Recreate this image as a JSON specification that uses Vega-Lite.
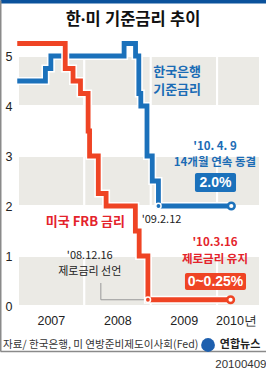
{
  "$schema": "https://vega.github.io/schema/vega-lite/v6.json",
  "width": 266,
  "height": 351,
  "autosize": "none",
  "padding": {"left": 0, "top": 0, "right": 0, "bottom": 22},
  "background": "white",
  "title": {"text": "한·미 기준금리 추이", "font": "'Noto Sans', 'Noto Sans CJK KR'", "fontSize": 16.5, "fontWeight": "bold", "color": "#111111", "anchor": "middle", "frame": "group", "offset": -28},
  "config": {"view": {"stroke": null}, "font": "Noto Sans CJK KR"},
  "resolve": {"axis": {"x": "independent", "y": "independent"}},
  "datasets": {
    "rates": [
      {"series": "한국", "date": "2006-12-28", "value": 4.5},
      {"series": "한국", "date": "2007-06-01", "value": 4.75},
      {"series": "한국", "date": "2007-07-01", "value": 5.0},
      {"series": "한국", "date": "2008-08-07", "value": 5.25},
      {"series": "한국", "date": "2008-10-09", "value": 5.0},
      {"series": "한국", "date": "2008-10-27", "value": 4.25},
      {"series": "한국", "date": "2008-11-07", "value": 4.0},
      {"series": "한국", "date": "2008-12-11", "value": 3.0},
      {"series": "한국", "date": "2009-01-09", "value": 2.5},
      {"series": "한국", "date": "2009-02-12", "value": 2.0},
      {"series": "한국", "date": "2010-03-20", "value": 2.0},
      {"series": "미국", "date": "2006-12-28", "value": 5.25},
      {"series": "미국", "date": "2007-09-18", "value": 4.75},
      {"series": "미국", "date": "2007-10-31", "value": 4.5},
      {"series": "미국", "date": "2007-12-11", "value": 4.25},
      {"series": "미국", "date": "2008-01-22", "value": 3.5},
      {"series": "미국", "date": "2008-01-30", "value": 3.0},
      {"series": "미국", "date": "2008-03-18", "value": 2.25},
      {"series": "미국", "date": "2008-04-30", "value": 2.0},
      {"series": "미국", "date": "2008-10-08", "value": 1.5},
      {"series": "미국", "date": "2008-10-29", "value": 1.0},
      {"series": "미국", "date": "2008-12-16", "value": 0.125},
      {"series": "미국", "date": "2010-03-16", "value": 0.125}
    ]
  },
  "layer": [
    {
      "data": {"values": [
        {"start": "2007-01-01", "end": "2008-01-01", "lo": 0, "hi": 1},
        {"start": "2008-01-01", "end": "2009-01-01", "lo": 0, "hi": 1},
        {"start": "2009-01-01", "end": "2010-01-01", "lo": 0, "hi": 1},
        {"start": "2010-01-01", "end": "2010-08-25", "lo": 0, "hi": 1},
        {"start": "2007-01-01", "end": "2008-01-01", "lo": 2, "hi": 3},
        {"start": "2008-01-01", "end": "2009-01-01", "lo": 2, "hi": 3},
        {"start": "2009-01-01", "end": "2010-01-01", "lo": 2, "hi": 3},
        {"start": "2010-01-01", "end": "2010-08-25", "lo": 2, "hi": 3},
        {"start": "2007-01-01", "end": "2008-01-01", "lo": 4, "hi": 5},
        {"start": "2008-01-01", "end": "2009-01-01", "lo": 4, "hi": 5},
        {"start": "2009-01-01", "end": "2010-01-01", "lo": 4, "hi": 5},
        {"start": "2010-01-01", "end": "2010-08-25", "lo": 4, "hi": 5}
      ]},
      "mark": {"type": "rect", "fill": "#ebeae5", "stroke": "white", "strokeWidth": 2},
      "encoding": {
        "x": {"field": "start", "type": "temporal",
          "scale": {"domain": [{"year": 2006, "month": 9, "date": 24}, {"year": 2010, "month": 9, "date": 27}], "nice": false},
          "axis": {"orient": "bottom", "title": "20100409", "titleAnchor": "end", "titleFont": "Liberation Sans", "titleFontSize": 11.5, "titleFontWeight": "normal", "titleColor": "#333333", "titlePadding": 7,
            "values": [{"year": 2007, "month": 7, "date": 1}, {"year": 2008, "month": 7, "date": 1}, {"year": 2009, "month": 7, "date": 1}, {"year": 2010, "month": 4, "date": 15}],
            "labelExpr": "year(datum.value) == 2010 ? '2010년' : timeFormat(datum.value, '%Y')",
            "labelFont": "Liberation Sans", "labelFontSize": 12.5, "labelColor": "#222222", "labelBaseline": "middle", "labelPadding": -31, "labelFlush": false, "labelOverlap": false,
            "ticks": false, "grid": false, "domainColor": "#8a8a8a", "domainWidth": 1.5}},
        "x2": {"field": "end"},
        "y": {"field": "lo", "type": "quantitative",
          "scale": {"domain": [-0.9, 6.12], "nice": false, "zero": false},
          "axis": {"orient": "left", "title": null, "labels": false, "ticks": false, "grid": false, "domainColor": "#8a8a8a", "domainWidth": 2}},
        "y2": {"field": "hi"}
      }
    },
    {
      "data": {"values": [
        {"seq": 1, "date": "2008-04-01", "value": 0.46},
        {"seq": 2, "date": "2008-04-01", "value": 0.125},
        {"seq": 3, "date": "2008-12-16", "value": 0.125}
      ]},
      "mark": {"type": "line", "color": "#999999", "strokeWidth": 1},
      "encoding": {
        "x": {"field": "date", "type": "temporal", "axis": {"orient": "top", "title": null, "labels": false, "ticks": false, "grid": false, "domainColor": "#0b529c", "domainWidth": 6}},
        "y": {"field": "value", "type": "quantitative", "axis": {"orient": "left", "offset": -14, "title": null, "domain": false, "ticks": false, "grid": false, "values": [0, 1, 2, 3, 4, 5], "labelFont": "Liberation Sans", "labelFontSize": 12.5, "labelColor": "#222222", "labelAlign": "right", "labelBaseline": "middle", "labelPadding": 2, "labelOverlap": false, "labelFlush": false}},
        "order": {"field": "seq"}
      }
    },
    {
      "data": {"name": "rates"},
      "transform": [{"filter": "datum.series == '한국'"}],
      "mark": {"type": "line", "interpolate": "step-after", "color": "white", "strokeWidth": 8, "strokeJoin": "miter"},
      "encoding": {
        "x": {"field": "date", "type": "temporal", "axis": null},
        "y": {"field": "value", "type": "quantitative", "axis": null}
      }
    },
    {
      "data": {"name": "rates"},
      "transform": [{"filter": "datum.series == '한국'"}],
      "mark": {"type": "line", "interpolate": "step-after", "strokeWidth": 4.8, "strokeJoin": "miter"},
      "encoding": {
        "x": {"field": "date", "type": "temporal", "axis": null},
        "y": {"field": "value", "type": "quantitative", "axis": null},
        "color": {"field": "series", "type": "nominal", "scale": {"domain": ["한국", "미국"], "range": ["#1b71bb", "#ef4424"]}, "legend": null}
      }
    },
    {
      "data": {"name": "rates"},
      "transform": [{"filter": "datum.series == '미국'"}],
      "mark": {"type": "line", "interpolate": "step-after", "color": "white", "strokeWidth": 8, "strokeJoin": "miter"},
      "encoding": {
        "x": {"field": "date", "type": "temporal", "axis": null},
        "y": {"field": "value", "type": "quantitative", "axis": null}
      }
    },
    {
      "data": {"name": "rates"},
      "transform": [{"filter": "datum.series == '미국'"}],
      "mark": {"type": "line", "interpolate": "step-after", "strokeWidth": 4.8, "strokeJoin": "miter"},
      "encoding": {
        "x": {"field": "date", "type": "temporal", "axis": null},
        "y": {"field": "value", "type": "quantitative", "axis": null},
        "color": {"field": "series", "type": "nominal", "legend": null}
      }
    },
    {
      "data": {"values": [
        {"series": "미국", "date": "2008-12-16", "value": 0.125},
        {"series": "한국", "date": "2009-02-12", "value": 2.0}
      ]},
      "mark": {"type": "circle", "size": 28, "stroke": "white", "strokeWidth": 1.5, "opacity": 1},
      "encoding": {
        "x": {"field": "date", "type": "temporal", "axis": null},
        "y": {"field": "value", "type": "quantitative", "axis": null},
        "color": {"field": "series", "type": "nominal", "legend": null}
      }
    },
    {
      "data": {"values": [
        {"series": "미국", "date": "2010-03-16", "value": 0.125},
        {"series": "한국", "date": "2010-03-20", "value": 2.0}
      ]},
      "mark": {"type": "point", "filled": false, "fill": "white", "size": 45, "strokeWidth": 2.5, "opacity": 1},
      "encoding": {
        "x": {"field": "date", "type": "temporal", "axis": null},
        "y": {"field": "value", "type": "quantitative", "axis": null},
        "color": {"field": "series", "type": "nominal", "legend": null}
      }
    },
    {
      "data": {"values": [
        {"start": "2009-09-01", "end": "2010-04-15", "low": 2.28, "high": 2.66, "series": "한국"},
        {"start": "2009-07-08", "end": "2010-06-09", "low": 0.32, "high": 0.66, "series": "미국"}
      ]},
      "mark": {"type": "rect", "cornerRadius": 2},
      "encoding": {
        "x": {"field": "start", "type": "temporal", "axis": null},
        "x2": {"field": "end"},
        "y": {"field": "low", "type": "quantitative", "axis": null},
        "y2": {"field": "high"},
        "color": {"field": "series", "type": "nominal", "scale": {"domain": ["한국", "미국"], "range": ["#1b6cb5", "#e4232b"]}, "legend": null}
      }
    },
    {
      "data": {"values": [
        {"date": "2009-12-23", "value": 2.47, "label": "2.0%"},
        {"date": "2009-12-23", "value": 0.49, "label": "0~0.25%"}
      ]},
      "mark": {"type": "text", "font": "Liberation Sans", "fontSize": 14, "fontWeight": "bold", "color": "white", "align": "center", "baseline": "middle"},
      "encoding": {
        "x": {"field": "date", "type": "temporal", "axis": null},
        "y": {"field": "value", "type": "quantitative", "axis": null},
        "text": {"field": "label"}
      }
    },
    {
      "data": {"values": [
        {"date": "2009-01-14", "value": 4.68, "label": "한국은행\n기준금리"}
      ]},
      "mark": {"type": "text", "fontSize": 13, "fontWeight": "bold", "color": "#1b6cb5", "align": "left", "baseline": "middle", "lineBreak": "\n", "lineHeight": 18},
      "encoding": {
        "x": {"field": "date", "type": "temporal", "axis": null},
        "y": {"field": "value", "type": "quantitative", "axis": null},
        "text": {"field": "label"}
      }
    },
    {
      "data": {"values": [
        {"date": "2009-12-20", "value": 3.18, "label": "'10. 4. 9\n14개월 연속 동결"}
      ]},
      "mark": {"type": "text", "fontSize": 11.5, "fontWeight": "bold", "color": "#1b6cb5", "align": "center", "baseline": "middle", "lineBreak": "\n", "lineHeight": 16},
      "encoding": {
        "x": {"field": "date", "type": "temporal", "axis": null},
        "y": {"field": "value", "type": "quantitative", "axis": null},
        "text": {"field": "label"}
      }
    },
    {
      "data": {"values": [
        {"date": "2008-01-07", "value": 1.68, "label": "미국 FRB 금리"}
      ]},
      "mark": {"type": "text", "fontSize": 13, "fontWeight": "bold", "color": "#e4232b", "align": "center", "baseline": "middle"},
      "encoding": {
        "x": {"field": "date", "type": "temporal", "axis": null},
        "y": {"field": "value", "type": "quantitative", "axis": null},
        "text": {"field": "label"}
      }
    },
    {
      "data": {"values": [
        {"date": "2009-12-20", "value": 1.26, "label": "'10.3.16\n제로금리 유지"}
      ]},
      "mark": {"type": "text", "fontSize": 11.5, "fontWeight": "bold", "color": "#e4232b", "align": "center", "baseline": "middle", "lineBreak": "\n", "lineHeight": 17},
      "encoding": {
        "x": {"field": "date", "type": "temporal", "axis": null},
        "y": {"field": "value", "type": "quantitative", "axis": null},
        "text": {"field": "label"}
      }
    },
    {
      "data": {"values": [
        {"date": "2008-01-31", "value": 1.0, "label": "'08.12.16\n제로금리 선언"},
        {"date": "2009-03-01", "value": 1.72, "label": "'09.2.12"}
      ]},
      "mark": {"type": "text", "fontSize": 11, "color": "#222222", "align": "center", "baseline": "middle", "lineBreak": "\n", "lineHeight": 16},
      "encoding": {
        "x": {"field": "date", "type": "temporal", "axis": null},
        "y": {"field": "value", "type": "quantitative", "axis": null},
        "text": {"field": "label"}
      }
    },
    {
      "data": {"values": [
        {"date": "2006-10-10", "value": -0.78, "label": "자료/ 한국은행, 미 연방준비제도이사회(Fed)"}
      ]},
      "mark": {"type": "text", "fontSize": 10.6, "color": "#333333", "align": "left", "baseline": "middle"},
      "encoding": {
        "x": {"field": "date", "type": "temporal", "axis": null},
        "y": {"field": "value", "type": "quantitative", "axis": null},
        "text": {"field": "label"}
      }
    },
    {
      "data": {"values": [
        {"date": "2009-11-12", "value": -0.78}
      ]},
      "mark": {"type": "circle", "size": 190, "color": "#1d5fae", "opacity": 1},
      "encoding": {
        "x": {"field": "date", "type": "temporal", "axis": null},
        "y": {"field": "value", "type": "quantitative", "axis": null}
      }
    },
    {
      "data": {"values": [
        {"date": "2010-05-07", "value": -0.78, "label": "연합뉴스"}
      ]},
      "mark": {"type": "text", "fontSize": 11, "fontWeight": "bold", "color": "#222222", "align": "center", "baseline": "middle"},
      "encoding": {
        "x": {"field": "date", "type": "temporal", "axis": null},
        "y": {"field": "value", "type": "quantitative", "axis": null},
        "text": {"field": "label"}
      }
    }
  ]
}
